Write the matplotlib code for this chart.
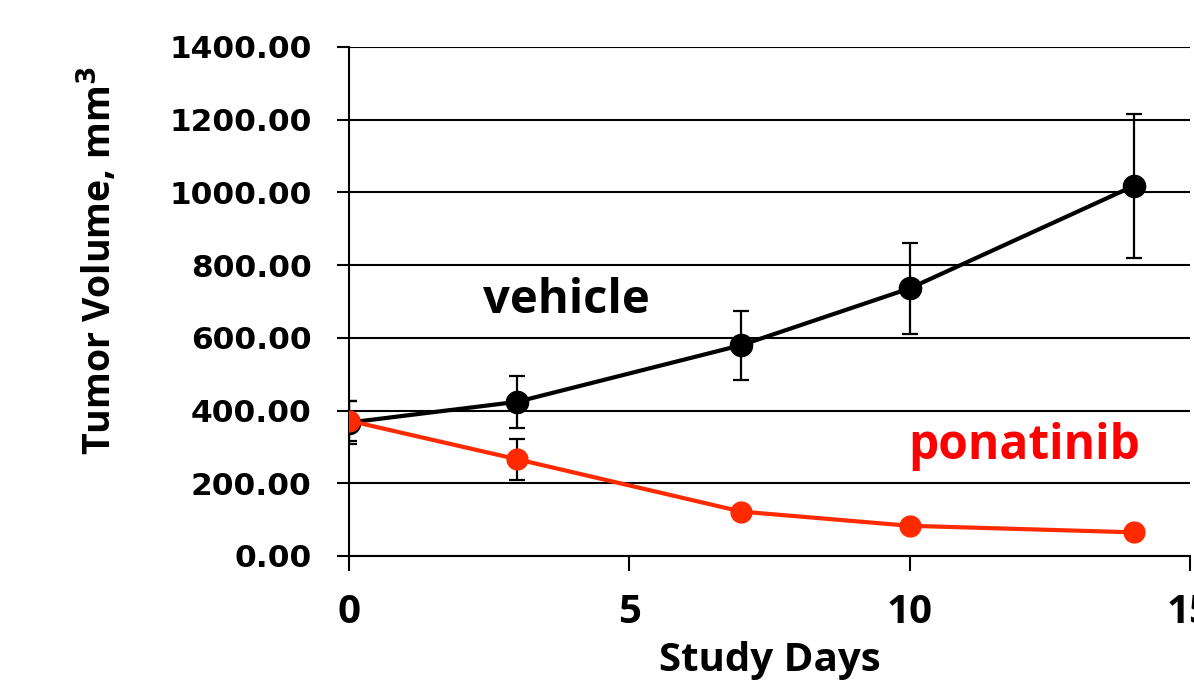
import matplotlib
matplotlib.use('Agg')
import matplotlib.pyplot as plt
import numpy as np

days = [0, 3, 7, 10, 14]

vehicle = [367, 424, 580, 736, 1018]
vehicle_err = [58, 72, 95, 125, 199]

ponatinib = [372, 266, 122, 83, 65]
ponatinib_err = [55, 56, 0, 0, 0]

yticks = [0, 200, 400, 600, 800, 1000, 1200, 1400]
xticks = [0, 5, 10, 15]

red_line = '#ff2a00'

fig = plt.figure(figsize=(11.94, 6.82), dpi=100)
ax = fig.add_axes([0.2923, 0.1848, 0.7043, 0.7463])

ax.errorbar(days, vehicle, yerr=vehicle_err, color='black', lw=3,
            marker='o', ms=16, elinewidth=1.6, capsize=6, capthick=1.6, zorder=3)
ax.errorbar(days, ponatinib, yerr=ponatinib_err, color=red_line, lw=3,
            marker='o', ms=15, elinewidth=1.6, capsize=6, capthick=1.6,
            ecolor='black', zorder=4)

ax.set_xlim(0, 15)
ax.set_ylim(0, 1400)
ax.set_xticks(xticks)
ax.set_yticks(yticks)
ax.set_yticklabels(['%.2f' % v for v in yticks], fontfamily='DejaVu Sans',
                   fontweight='bold', fontsize=22.5)
ax.set_xticklabels([str(v) for v in xticks], fontfamily='Open Sans',
                   fontweight='bold', fontsize=29)

ax.yaxis.grid(True, color='black', lw=1.5)
ax.set_axisbelow(True)
for s in ['top', 'right']:
    ax.spines[s].set_visible(False)
ax.spines['left'].set_linewidth(1.5)
ax.spines['bottom'].set_linewidth(1.5)
ax.tick_params(axis='y', direction='out', length=9, width=1.5, pad=18)
ax.tick_params(axis='x', direction='out', length=11, width=1.5, pad=16)

ax.set_xlabel('Study Days', fontfamily='Open Sans', fontweight='bold',
              fontsize=29, labelpad=6)
ax.set_ylabel('Tumor Volume, mm$^\\mathbf{3}$', fontfamily='Open Sans',
              fontweight='bold', fontsize=27)
ax.yaxis.set_label_coords(-0.272, 0.58)

ax.text(3.875, 704, 'vehicle', fontfamily='Open Sans', fontweight='bold',
        fontsize=34, color='black', ha='center', va='center')
ax.text(12.05, 300, 'ponatinib', fontfamily='Open Sans', fontweight='bold',
        fontsize=34.5, color='#ff0000', ha='center', va='center')

fig.savefig('out.png', dpi=100)
